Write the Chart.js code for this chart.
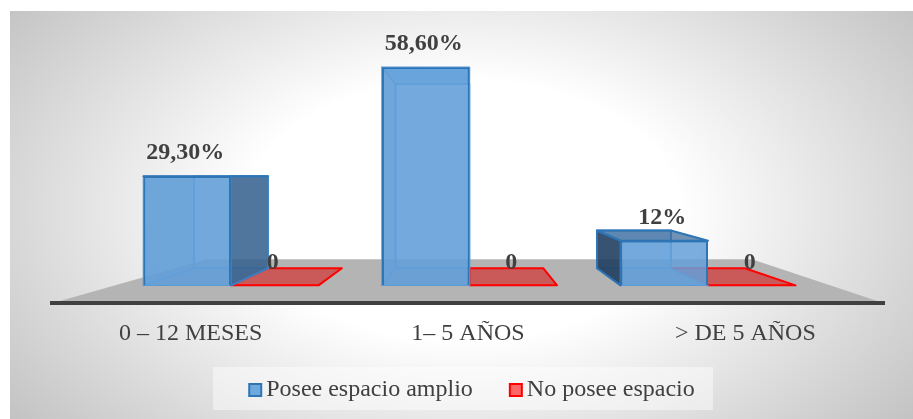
<!DOCTYPE html>
<html>
<head>
<meta charset="utf-8">
<style>
  html, body { margin: 0; padding: 0; background: #fff; }
  canvas { display: block; }
</style>
<script src="https://cdn.jsdelivr.net/npm/chart.js@4"></script>
</head>
<body>
<canvas id="myChart" width="913" height="419"></canvas>
<script>
const categories = ["0 – 12 MESES", "1– 5 AÑOS", "> DE 5 AÑOS"];
const amplio = [29.3, 58.6, 12];
const noAmplio = [0, 0, 0];
const amplioLabels = ["29,30%", "58,60%", "12%"];
const noAmplioLabels = ["0", "0", "0"];
const legendFill = ["#6fa8dc", "#ff6666"];
const legendEdge = ["#2e75b6", "#ff0000"];

const serif = '"Liberation Serif", "Times New Roman", serif';
const textColor = "#404040";

// depth of the boxes: every point moves towards this vanishing point
const vp = { x: 469, y: 175.5 };
const depth = 0.845;
const floorDepth = 0.655;
const floorSkew = 11;

function back(x, y, k = depth) {
  return [vp.x + (x - vp.x) * k, vp.y + (y - vp.y) * k];
}

function poly(ctx, pts, fill, stroke, lw) {
  ctx.beginPath();
  pts.forEach((p, i) => (i ? ctx.lineTo(p[0], p[1]) : ctx.moveTo(p[0], p[1])));
  ctx.closePath();
  if (fill) {
    ctx.fillStyle = fill;
    ctx.fill();
  }
  if (stroke) {
    ctx.strokeStyle = stroke;
    ctx.lineWidth = lw;
    ctx.lineJoin = "round";
    ctx.stroke();
  }
}

// grey panel behind the chart
const panel = {
  id: "panel",
  beforeDraw(chart) {
    const { ctx, width, height } = chart;
    ctx.save();
    ctx.fillStyle = "#fff";
    ctx.fillRect(0, 0, width, height);
    ctx.beginPath();
    ctx.rect(10, 11, width - 10, height - 11);
    ctx.clip();
    ctx.translate(462, 210);
    ctx.scale(1, 0.6);
    const g = ctx.createRadialGradient(0, 0, 0, 0, 0, 570);
    g.addColorStop(0, "#ffffff");
    g.addColorStop(0.38, "#ffffff");
    g.addColorStop(0.8, "#d6d6d6");
    g.addColorStop(1, "#c3c3c3");
    ctx.fillStyle = g;
    ctx.fillRect(-600, -600, 1200, 1200);
    ctx.restore();

    ctx.fillStyle = "rgba(255,255,255,0.45)";
    ctx.fillRect(213, 367, 500, 43);
  },
};

// floor, back walls, side faces and the flat red marks
const boxes = {
  id: "boxes",
  beforeDatasetsDraw(chart) {
    const { ctx } = chart;
    const axis = chart.scales.labels;
    const floorY = chart.chartArea.bottom;
    ctx.save();

    const fl = back(axis.left, floorY, floorDepth);
    const fr = back(axis.right, floorY, floorDepth);
    fl[0] += floorSkew;
    fr[0] += floorSkew;
    poly(ctx, [[axis.left, floorY], fl, fr, [axis.right, floorY]], "#b4b4b4");

    chart.getDatasetMeta(1).data.forEach((bar) => {
      const l = bar.x - bar.width / 2;
      const r = bar.x + bar.width / 2;
      const y = bar.base;
      poly(ctx, [[l, y], back(l, y), back(r, y), [r, y]], "rgba(214,40,40,0.65)", "#ff0000", 2);
    });

    chart.getDatasetMeta(0).data.forEach((bar) => {
      const l = bar.x - bar.width / 2;
      const r = bar.x + bar.width / 2;
      const t = bar.y;
      const b = bar.base;
      const edge = "#5b9bd5";
      const bl = back(l, b), br = back(r, b), tl = back(l, t), tr = back(r, t);

      poly(ctx, [tl, tr, br, bl], "rgba(91,155,213,0.35)", edge, 2);
      poly(ctx, [[l, b], bl, br, [r, b]], "rgba(70,130,190,0.35)", edge, 1.5);
      if (tl[0] > l + 1) {
        poly(ctx, [[l, t], tl, bl, [l, b]], "rgba(91,155,213,0.5)", edge, 1.5);
      }
      if (l > vp.x) {
        poly(ctx, [[l, t], tl, bl, [l, b]], "rgba(30,58,90,0.85)", "#2e75b6", 2);
      }
      if (r < vp.x) {
        poly(ctx, [[r, t], tr, br, [r, b]], "rgba(50,92,137,0.8)", "#3f7fbf", 2);
      }
      if (t > vp.y) {
        poly(ctx, [[l, t], tl, tr, [r, t]], "rgba(50,100,150,0.7)", "#2e75b6", 2);
      } else {
        poly(ctx, [[l, t], tl, tr, [r, t]], "rgba(120,180,235,0.9)", edge, 1.5);
      }
    });
    ctx.restore();
  },
  afterDatasetsDraw(chart) {
    const { ctx } = chart;
    ctx.save();
    ctx.font = "bold 24px " + serif;
    ctx.fillStyle = textColor;
    ctx.textAlign = "center";
    ctx.textBaseline = "middle";
    [amplioLabels, noAmplioLabels].forEach((texts, d) => {
      chart.getDatasetMeta(d).data.forEach((bar, i) => {
        ctx.fillText(texts[i], bar.x - 2, bar.y - 23);
      });
    });
    ctx.restore();
  },
  afterDraw(chart) {
    // legend swatches, closer to their text than the stock box gap allows
    const { ctx } = chart;
    ctx.save();
    chart.legend.legendHitBoxes.forEach((hit, i) => {
      const y = Math.round(hit.top + hit.height / 2 - 6.5);
      ctx.fillStyle = legendFill[i];
      ctx.strokeStyle = legendEdge[i];
      ctx.lineWidth = 2;
      ctx.fillRect(hit.left - 5, y, 12, 12);
      ctx.strokeRect(hit.left - 5, y, 12, 12);
    });
    ctx.restore();
  },
  afterLayout(chart) {
    // bars sit on the narrower front edge, the labels follow the full floor width
    const x = chart.scales.x;
    const axis = chart.scales.labels;
    const c = (axis.left + axis.right) / 2 + 1.5;
    x.left = c - 357.75;
    x.right = c + 357.75;
    x.width = 715.5;
    x.configure();

    const legend = chart.legend;
    legend.top += 8;
    legend.bottom += 8;
    legend.left += 6.5;
    legend.right += 6.5;
  },
};

function frontFill(context) {
  const { chart, dataIndex } = context;
  const bar = chart.getDatasetMeta(0).data[dataIndex];
  if (!bar || !bar.width) return "rgba(100,160,216,0.85)";
  const l = bar.x - bar.width / 2;
  const g = chart.ctx.createLinearGradient(l, bar.base, l + bar.width, bar.base - 218);
  g.addColorStop(0, "rgba(100,160,216,0.85)");
  g.addColorStop(0.5, "rgba(112,170,224,0.85)");
  g.addColorStop(1, "rgba(150,205,255,0.85)");
  return g;
}

new Chart("myChart", {
  type: "bar",
  data: {
    labels: categories,
    datasets: [
      {
        label: "Posee espacio amplio",
        data: amplio,
        backgroundColor: frontFill,
        borderColor: "#2e75b6",
        borderWidth: 2,
      },
      {
        label: "No posee espacio",
        data: noAmplio,
        backgroundColor: "#ff6666",
        borderColor: "#ff0000",
        borderWidth: 0,
      },
    ],
  },
  plugins: [panel, boxes],
  options: {
    responsive: false,
    animation: false,
    layout: { padding: { left: 52, right: 29, top: 62, bottom: 15 } },
    datasets: { bar: { categoryPercentage: 0.734, barPercentage: 1 } },
    scales: {
      x: { display: false },
      labels: {
        type: "category",
        labels: categories,
        position: "bottom",
        grid: { display: false, drawTicks: false },
        border: { display: true, color: "#404040", width: 4, z: 1 },
        ticks: { color: textColor, font: { family: serif, size: 24 }, padding: 16, maxRotation: 0, autoSkip: false },
      },
      y: { display: false, min: -4.8, max: 60 },
    },
    plugins: {
      tooltip: { enabled: false },
      legend: {
        position: "bottom",
        labels: {
          color: textColor,
          font: { family: serif, size: 24 },
          boxWidth: 0,
          padding: 6,
          generateLabels() {
            return [
              { text: "Posee espacio amplio      ", fontColor: textColor, lineWidth: 0, datasetIndex: 0 },
              { text: "No posee espacio", fontColor: textColor, lineWidth: 0, datasetIndex: 1 },
            ];
          },
        },
      },
    },
  },
});
</script>
</body>
</html>
